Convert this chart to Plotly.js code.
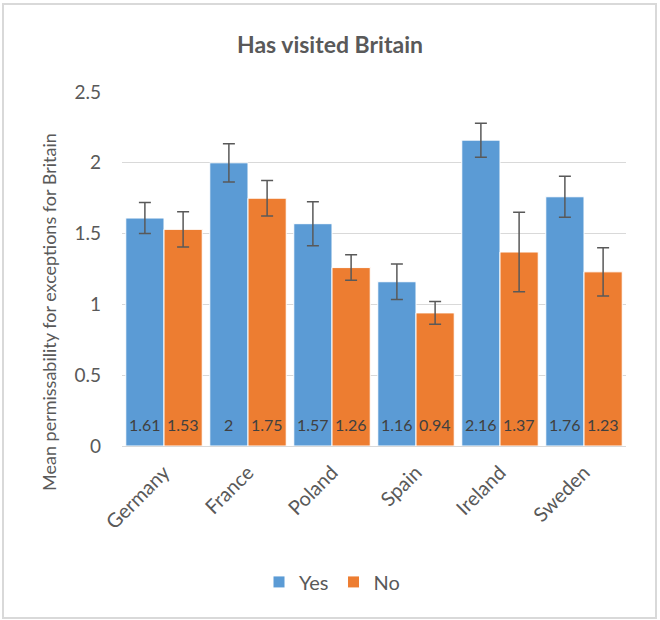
<!DOCTYPE html>
<html>
<head>
<meta charset="utf-8">
<script src="https://cdn.plot.ly/plotly-3.0.1.min.js"></script>
<style>
html,body{margin:0;padding:0;background:#fff;}
#wrap{position:relative;width:660px;height:620px;}
#chart{width:660px;height:620px;}
#frame{position:absolute;left:2px;top:3px;width:651px;height:612px;border:2px solid #d9d9d9;pointer-events:none;}
</style>
</head>
<body>
<div id="wrap"><div id="chart"></div><div id="frame"></div></div>
<script>
const categories = ["Germany", "France", "Poland", "Spain", "Ireland", "Sweden"];
const yesValues = [1.61, 2, 1.57, 1.16, 2.16, 1.76];
const noValues = [1.53, 1.75, 1.26, 0.94, 1.37, 1.23];
const yesErrors = [0.11, 0.135, 0.155, 0.125, 0.12, 0.145];
const noErrors = [0.125, 0.125, 0.09, 0.08, 0.28, 0.17];
const yTicks = [0, 0.5, 1, 1.5, 2, 2.5];
const yTickText = ["0", "0.5", "1", "1.5", "2", "2.5"];
const yAxisTitle = "Mean permissability for exceptions for Britain";

const FONT = "Lato, 'Open Sans', sans-serif";
const GRAY = "#595959";
function series(name, vals, errs, color) {
  return {
    type: "bar", name: name, x: categories, y: vals,
    marker: {color: color, line: {color: "#ffffff", width: 1}},
    error_y: {type: "data", array: errs, visible: true, color: GRAY, thickness: 1.5, width: 6},
    hoverinfo: "x+y"
  };
}
const data = [
  series("Yes", yesValues, yesErrors, "#5B9BD5"),
  series("No", noValues, noErrors, "#ED7D31")
];

const ML = 122, MR = 34, MT = 92, MB = 174;
const plotW = 660 - ML - MR;
const barShift = plotW / categories.length * 0.91 / 4;

const annotations = [];
function addLabels(vals, sign) {
  vals.forEach((v, i) => {
    annotations.push({
      x: categories[i], y: 0, xref: "x", yref: "y",
      text: String(v), showarrow: false,
      xanchor: "center", yanchor: "middle",
      xshift: sign * barShift, yshift: 22,
      font: {family: FONT, size: 16, color: "#404040"}
    });
  });
}
addLabels(yesValues, -1);
addLabels(noValues, 1);
annotations.push({
  xref: "paper", yref: "paper",
  x: (49 - ML) / plotW, y: (620 - MB - 312) / (620 - MT - MB),
  text: yAxisTitle, showarrow: false, textangle: -90,
  xanchor: "center", yanchor: "middle",
  font: {family: FONT, size: 18, color: GRAY}
});

const layout = {
  width: 660, height: 620,
  margin: {l: ML, r: MR, t: MT, b: MB},
  paper_bgcolor: "#ffffff", plot_bgcolor: "#ffffff",
  font: {family: FONT, color: GRAY},
  title: {text: "<b>Has visited Britain</b>", x: 0.5, xanchor: "center", y: 0.928, yanchor: "middle",
          font: {family: FONT, size: 23, color: GRAY}},
  barmode: "group", bargap: 0.09, bargroupgap: 0,
  showlegend: true,
  legend: {orientation: "h", x: (332 - ML) / plotW, xanchor: "center", y: -0.384, yanchor: "middle",
           font: {family: FONT, size: 20, color: GRAY}, traceorder: "normal"},
  xaxis: {
    tickangle: -45, tickfont: {family: FONT, size: 20, color: GRAY},
    showline: true, linecolor: "#d9d9d9", linewidth: 1, ticks: "", showgrid: false,
    ticklabelstandoff: 6
  },
  yaxis: {
    range: [0, 2.5], tickvals: yTicks, ticktext: yTickText,
    tickfont: {family: FONT, size: 19, color: GRAY},
    showgrid: true, gridcolor: "#d9d9d9", gridwidth: 1, zeroline: false,
    showline: false, ticks: "", ticklabelstandoff: 20
  },
  annotations: annotations
};
Plotly.newPlot("chart", data, layout, {displayModeBar: false, staticPlot: true});
</script>
</body>
</html>
